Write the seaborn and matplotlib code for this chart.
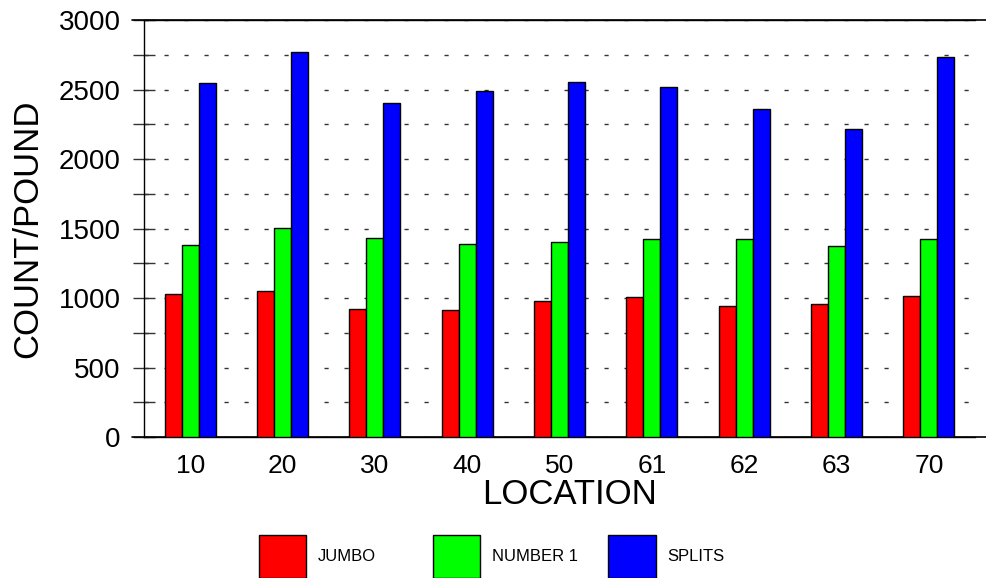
import pandas as pd
import matplotlib.pyplot as plt
import seaborn as sns
from matplotlib.lines import Line2D

locations = ['10', '20', '30', '40', '50', '61', '62', '63', '70']
jumbo = [1031, 1050, 923, 911, 981, 1007, 942, 957, 1017]
number1 = [1381, 1506, 1429, 1386, 1405, 1427, 1427, 1372, 1427]
splits = [2545, 2770, 2400, 2490, 2552, 2518, 2358, 2214, 2736]
grades = ['JUMBO', 'NUMBER 1', 'SPLITS']
colors = ['#ff0000', '#00ff00', '#0000ff']

df = pd.DataFrame({'LOCATION': locations, 'JUMBO': jumbo,
                   'NUMBER 1': number1, 'SPLITS': splits})
df = df.melt(id_vars='LOCATION', var_name='grade', value_name='count')

sns.set_style('white')
plt.rcParams['font.family'] = ['Liberation Sans', 'DejaVu Sans']
plt.rcParams['text.color'] = 'black'
plt.rcParams['axes.labelcolor'] = 'black'
plt.rcParams['xtick.color'] = 'black'
plt.rcParams['ytick.color'] = 'black'

fig = plt.figure(figsize=(9.87, 5.78), dpi=100)
ax = fig.add_axes([0.1459, 0.2439, 0.8420, 0.7215])

sns.barplot(data=df, x='LOCATION', y='count', hue='grade', order=locations,
            hue_order=grades, palette=colors, saturation=1, width=0.55, gap=0,
            edgecolor='black', linewidth=1, legend=False, ax=ax, zorder=3)

ax.set_ylim(0, 3000)
ax.set_xlim(-0.5, len(locations) - 0.5)
ax.set_yticks(range(0, 3001, 250))
ax.set_yticklabels([str(v) if v % 500 == 0 else '' for v in range(0, 3001, 250)])
ax.yaxis.grid(True, color='#333333', linewidth=1, linestyle=(0, (3, 11.4)), zorder=0)
ax.xaxis.grid(False)

ax.spines['right'].set_visible(False)
for s in ['left', 'top', 'bottom']:
    ax.spines[s].set_color('black')
    ax.spines[s].set_linewidth(1)

# top and bottom rules run a little past the plot area as in the original
for yy in (0, 1):
    ax.add_line(Line2D([-0.0145, 1.0144], [yy, yy], transform=ax.transAxes,
                       color='black', linewidth=1.2, clip_on=False))

ax.tick_params(axis='y', which='both', direction='inout', length=16, width=1,
               left=True, labelsize=20, pad=9, color='#333333')
ax.tick_params(axis='x', bottom=False, labelsize=19, pad=9)
ax.set_xlabel('LOCATION', fontsize=25, labelpad=0, x=0.512)
ax.set_ylabel('COUNT/POUND', fontsize=25, labelpad=10)

handles = [plt.Rectangle((0, 0), 1, 1, facecolor=c, edgecolor='black', linewidth=1)
           for c in colors]
for h, lab, x in zip(handles, grades, [259, 433, 608]):
    fig.legend([h], [lab], loc='lower left', bbox_to_anchor=(x / 987, 0.0),
               frameon=False, fontsize=12, handlelength=2.85, handleheight=3.6,
               handletextpad=0.7, borderpad=0, borderaxespad=0)

fig.savefig('out.png', dpi=100)
